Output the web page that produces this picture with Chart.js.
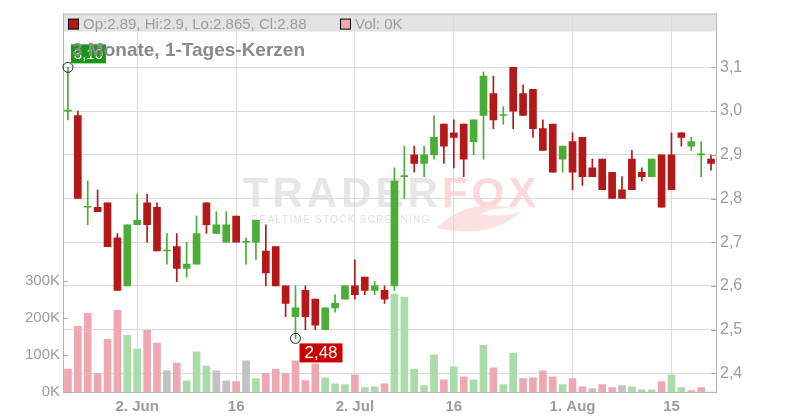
<!DOCTYPE html>
<html><head><meta charset="utf-8">
<script src="https://cdn.jsdelivr.net/npm/chart.js@4.4.1/dist/chart.umd.min.js"></script>
<style>html,body{margin:0;padding:0;background:#fff}canvas{display:block}</style>
</head><body>
<canvas id="c" width="800" height="420"></canvas>
<script>
// ---- data ----
const dates = [
 '2025-05-22','2025-05-23','2025-05-26','2025-05-27','2025-05-28','2025-05-29','2025-05-30',
 '2025-06-02','2025-06-03','2025-06-04','2025-06-05','2025-06-06','2025-06-09','2025-06-10','2025-06-11','2025-06-12','2025-06-13',
 '2025-06-16','2025-06-17','2025-06-18','2025-06-19','2025-06-20','2025-06-23','2025-06-24','2025-06-25','2025-06-26','2025-06-27','2025-06-30',
 '2025-07-01','2025-07-02','2025-07-03','2025-07-04','2025-07-07','2025-07-08','2025-07-09','2025-07-10','2025-07-11',
 '2025-07-14','2025-07-15','2025-07-16','2025-07-17','2025-07-18','2025-07-21','2025-07-22','2025-07-23','2025-07-24','2025-07-25',
 '2025-07-28','2025-07-29','2025-07-30','2025-07-31',
 '2025-08-01','2025-08-04','2025-08-05','2025-08-06','2025-08-07','2025-08-08','2025-08-11','2025-08-12','2025-08-13','2025-08-14','2025-08-15',
 '2025-08-18','2025-08-19','2025-08-20','2025-08-21'
];
const open  = [3.00,2.99,2.78,2.78,2.79,2.71,2.60,2.74,2.79,2.78,2.68,2.69,2.64,2.65,2.79,2.72,2.70,2.76,2.70,2.70,
               2.68,2.69,2.60,2.53,2.59,2.57,2.50,2.55,2.57,2.60,2.62,2.59,2.59,2.60,2.85,2.90,2.88,2.90,2.97,2.95,
               2.97,2.93,2.99,3.04,2.99,3.10,3.04,3.05,2.96,2.97,2.89,2.93,2.94,2.87,2.89,2.86,2.82,2.89,2.86,2.85,
               2.90,2.90,2.95,2.92,2.90,2.89];
const high  = [3.10,3.00,2.84,2.82,2.79,2.72,2.74,2.81,2.81,2.79,2.72,2.72,2.70,2.76,2.79,2.77,2.77,2.76,2.71,2.75,
               2.74,2.69,2.60,2.60,2.60,2.57,2.55,2.58,2.60,2.66,2.62,2.61,2.60,2.87,2.92,2.92,2.92,2.99,2.97,2.98,
               2.97,2.98,3.09,3.08,3.01,3.10,3.06,3.05,2.98,2.97,2.92,2.95,2.94,2.89,2.89,2.86,2.85,2.91,2.87,2.89,
               2.90,2.95,2.95,2.94,2.93,2.90];
const low   = [2.98,2.80,2.74,2.77,2.69,2.59,2.60,2.74,2.70,2.68,2.65,2.61,2.62,2.65,2.72,2.72,2.70,2.70,2.65,2.66,
               2.60,2.60,2.53,2.48,2.50,2.50,2.50,2.54,2.57,2.57,2.58,2.58,2.56,2.59,2.80,2.86,2.85,2.89,2.88,2.87,
               2.85,2.90,2.89,2.96,2.97,2.96,2.99,2.94,2.91,2.86,2.86,2.82,2.83,2.85,2.82,2.80,2.80,2.82,2.84,2.85,
               2.78,2.82,2.92,2.91,2.85,2.865];
const close = [3.00,2.80,2.78,2.77,2.69,2.59,2.74,2.75,2.74,2.68,2.68,2.64,2.65,2.72,2.74,2.74,2.74,2.70,2.70,2.75,
               2.63,2.60,2.56,2.55,2.53,2.51,2.55,2.56,2.60,2.58,2.59,2.60,2.57,2.84,2.85,2.88,2.90,2.94,2.92,2.94,
               2.89,2.98,3.08,2.98,2.99,3.00,2.99,2.96,2.91,2.86,2.92,2.86,2.85,2.85,2.82,2.80,2.80,2.82,2.85,2.89,
               2.78,2.82,2.94,2.93,2.90,2.88];
const volume = [62000,178000,212000,50000,142000,220000,153000,116000,166000,132000,
                57000,78000,30000,108000,70000,57000,30000,28000,84000,36000,
                50000,62000,50000,84000,31000,76000,38000,22000,20000,46000,
                12000,14000,22000,264000,256000,62000,17000,100000,33000,68000,
                41000,33000,126000,65000,20000,105000,36000,38000,57000,41000,
                20000,36000,14000,9000,20000,12000,17000,14000,6000,6000,
                28000,46000,12000,4000,12000,0];
const prevClose = 3.02; // close before the first visible day
const xTickDates  = ['2025-06-02','2025-06-16','2025-07-02','2025-07-16','2025-08-01','2025-08-15'];
const xTickLabels = ['2. Jun','16','2. Jul','16','1. Aug','15'];
const priceTicks  = [2.4,2.5,2.6,2.7,2.8,2.9,3.0,3.1];
const volumeTicks = [0,100000,200000,300000];
const chartTitle  = '3 Monate, 1-Tages-Kerzen';

// ---- styles ----
const FONT = '"Liberation Sans", Arial, sans-serif';
const RED = '#b41818', GREEN = '#4aad35';
const V_RED = '#eea8b1', V_GREEN = '#aadcaa', V_GRAY = '#c2c2c2';
const TXT = '#9c9c9c', GRID = '#dcdcdc', AXIS = '#b4b4b4';

const candleColors = close.map((c,i) => c >= open[i] ? GREEN : RED);
const volColors = close.map((c,i) => {
  const p = i === 0 ? prevClose : close[i-1];
  return c > p ? V_GREEN : (c < p ? V_RED : V_GRAY);
});

const fmtComma = (v,d) => v.toFixed(d).replace('.', ',');

const deco = {
  id: 'deco',
  beforeDraw(chart) {
    const {ctx, chartArea: a} = chart;
    ctx.save();
    // header band
    ctx.fillStyle = '#e3e3e3';
    ctx.fillRect(a.left, a.top, a.right - a.left, 18);
    ctx.strokeStyle = '#bcbcbc'; ctx.lineWidth = 1;
    ctx.beginPath(); ctx.moveTo(a.left, a.top + 0.5); ctx.lineTo(a.right, a.top + 0.5); ctx.stroke();

    // watermark
    const cx = (a.left + a.right) / 2;
    const spaced = (txt, x, y, sp, color) => {
      ctx.fillStyle = color;
      for (const ch of txt) { ctx.fillText(ch, x, y); x += ctx.measureText(ch).width + sp; }
      return x;
    };
    const measureSpaced = (txt, sp) => { let w = 0; for (const ch of txt) w += ctx.measureText(ch).width + sp; return w - sp; };
    ctx.textBaseline = 'alphabetic'; ctx.textAlign = 'left';
    ctx.font = 'bold 42px ' + FONT;
    const wTotal = measureSpaced('TRADERFOX', 4);
    let x = cx - wTotal / 2;
    const base = 207;
    x = spaced('TRADER', x, base, 4, '#e6e6e6');
    // fox tail swoosh
    ctx.fillStyle = '#fde0e2';
    ctx.beginPath();
    ctx.moveTo(437, 228);
    ctx.quadraticCurveTo(470, 195, 520, 210);
    ctx.quadraticCurveTo(500, 205, 480, 214);
    ctx.quadraticCurveTo(505, 218, 520, 212);
    ctx.quadraticCurveTo(490, 240, 437, 228);
    ctx.fill();
    spaced('FOX', x, base, 4, '#fcd8db');
    ctx.font = '10px ' + FONT;
    spaced('REALTIME STOCK SCREENING', 251, 223, 1.25, '#dedede');
    ctx.restore();
  },
  afterDatasetsDraw(chart) {
    const {ctx, chartArea: a, scales} = chart;
    const xs = scales.x, ys = scales.y, yv = scales.yv;
    ctx.save();
    // small inner tick marks
    ctx.strokeStyle = '#a8a8a8'; ctx.lineWidth = 1;
    priceTicks.forEach(v => {
      const y = Math.round(ys.getPixelForValue(v)) + 0.5;
      ctx.beginPath(); ctx.moveTo(a.right - 5, y); ctx.lineTo(a.right, y); ctx.stroke();
    });
    volumeTicks.forEach(v => {
      const y = Math.round(yv.getPixelForValue(v)) + 0.5;
      ctx.beginPath(); ctx.moveTo(a.left, y); ctx.lineTo(a.left + 5, y); ctx.stroke();
    });

    // max / min markers
    const hi = Math.max(...high), lo = Math.min(...low);
    const iHi = high.indexOf(hi), iLo = low.indexOf(lo);
    const hx = xs.getPixelForValue(iHi), hy = ys.getPixelForValue(hi);
    const lx = xs.getPixelForValue(iLo), ly = ys.getPixelForValue(lo);

    ctx.strokeStyle = '#222'; ctx.lineWidth = 1;
    ctx.beginPath(); ctx.arc(hx, hy, 5, 0, Math.PI * 2); ctx.stroke();
    ctx.beginPath(); ctx.arc(lx, ly, 5, 0, Math.PI * 2); ctx.stroke();

    ctx.textAlign = 'center'; ctx.textBaseline = 'middle';
    // high label
    ctx.fillStyle = '#149914';
    ctx.fillRect(hx + 3, hy - 23, 35, 19);
    ctx.fillStyle = '#fff'; ctx.font = '15px ' + FONT;
    ctx.fillText(fmtComma(hi, 2), hx + 3 + 17.5, hy - 23 + 10);
    // low label
    ctx.fillStyle = '#cc0000';
    ctx.fillRect(lx + 4, ly + 5, 43, 19);
    ctx.fillStyle = '#fff'; ctx.font = '17px ' + FONT;
    ctx.fillText(fmtComma(lo, 2), lx + 4 + 21.5, ly + 5 + 10);

    // header legend
    const n = close.length - 1;
    ctx.textAlign = 'left'; ctx.textBaseline = 'alphabetic';
    ctx.fillStyle = candleColors[n];
    ctx.fillRect(a.left + 5.5, a.top + 5.5, 10, 10);
    ctx.strokeStyle = '#000'; ctx.strokeRect(a.left + 5.5, a.top + 5.5, 10, 10);
    ctx.font = '15px ' + FONT; ctx.fillStyle = TXT;
    ctx.fillText('Op:' + open[n] + ', Hi:' + high[n] + ', Lo:' + low[n] + ', Cl:' + close[n], a.left + 20, a.top + 15);
    ctx.fillStyle = volColors[n];
    ctx.fillRect(a.left + 277.5, a.top + 5.5, 10, 10);
    ctx.strokeStyle = '#000'; ctx.strokeRect(a.left + 277.5, a.top + 5.5, 10, 10);
    ctx.fillStyle = TXT;
    ctx.fillText('Vol: ' + Math.round(volume[n] / 1000) + 'K', a.left + 292, a.top + 15);

    // title
    ctx.font = 'bold 19px ' + FONT; ctx.fillStyle = '#8a8a8a';
    ctx.fillText(chartTitle, a.left + 9, a.top + 42);
    ctx.restore();
  }
};

new Chart(document.getElementById('c'), {
  type: 'bar',
  data: {
    labels: dates,
    datasets: [
      { label: 'Kerzenkörper', data: open.map((o,i) => [Math.min(o, close[i]), Math.max(o, close[i])]),
        yAxisID: 'y', backgroundColor: candleColors, barThickness: 7, minBarLength: 1, grouped: false, order: 1 },
      { label: 'Docht', data: low.map((l,i) => [l, high[i]]),
        yAxisID: 'y', backgroundColor: candleColors, barThickness: 1, grouped: false, order: 2 },
      { label: 'Volumen', data: volume,
        yAxisID: 'yv', backgroundColor: volColors, barThickness: 7, grouped: false, order: 3 }
    ]
  },
  options: {
    responsive: false, animation: false, devicePixelRatio: 1,
    layout: { padding: { top: 12, left: 0, right: 0, bottom: 0 } },
    plugins: { legend: { display: false }, tooltip: { enabled: false } },
    scales: {
      x: {
        type: 'category', offset: true,
        grid: { offset: false, color: GRID, drawTicks: false },
        border: { color: AXIS },
        ticks: { autoSkip: false, maxRotation: 0, padding: 6, color: TXT, font: { family: FONT, size: 15, weight: 'bold' },
          callback: (v) => { const k = xTickDates.indexOf(dates[v]); return k >= 0 ? xTickLabels[k] : ''; } },
        afterBuildTicks: (s) => { s.ticks = xTickDates.map(d => ({ value: dates.indexOf(d) })); },
        afterFit: (s) => { s.height = 28; }
      },
      y: {
        position: 'right', min: 2.3574, max: 3.223,
        grid: { color: GRID, drawTicks: false },
        border: { color: AXIS },
        ticks: { padding: 4, color: TXT, font: { family: FONT, size: 16 }, callback: (v) => fmtComma(v, 1) },
        afterBuildTicks: (s) => { s.ticks = priceTicks.map(v => ({ value: v })); },
        afterFit: (s) => { s.width = 84; }
      },
      yv: {
        position: 'left', min: 0, max: 1020000,
        grid: { display: false, drawTicks: false },
        border: { display: true, color: AXIS },
        ticks: { padding: 3, color: TXT, font: { family: FONT, size: 15 }, callback: (v) => (v / 1000) + 'K' },
        afterBuildTicks: (s) => { s.ticks = volumeTicks.map(v => ({ value: v })); },
        afterFit: (s) => { s.width = 63; }
      }
    }
  },
  plugins: [deco]
});
</script>
</body></html>
